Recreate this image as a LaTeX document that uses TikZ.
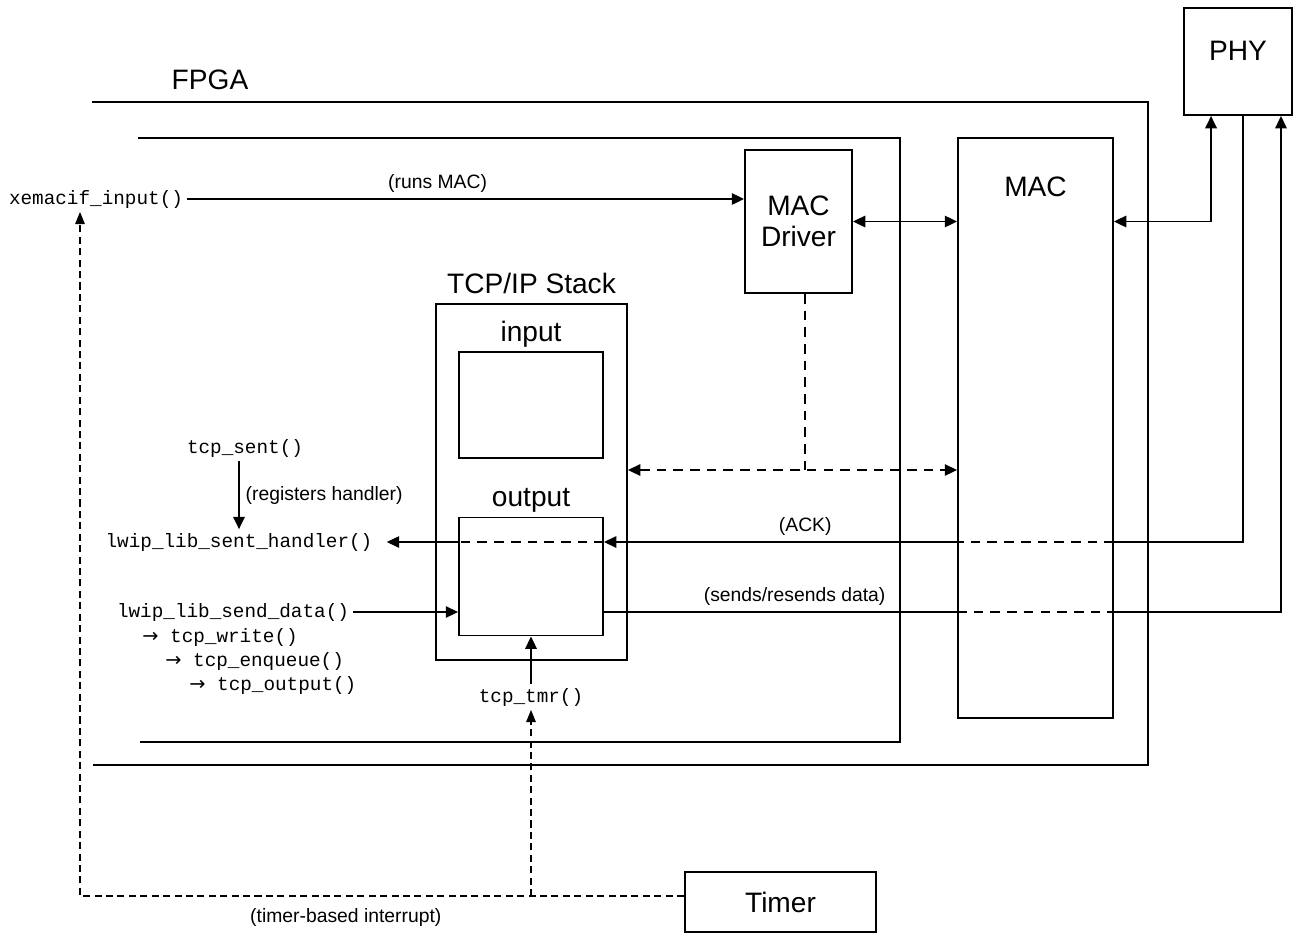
\documentclass[tikz,border=0pt]{standalone}
\usepackage{fontspec}
\setmainfont{Liberation Sans}
\setmonofont{Liberation Mono}
\newfontfamily\symfont{DejaVu Sans}
\usetikzlibrary{arrows.meta}
\newcommand\bigtxt{\fontsize{16}{18}\selectfont}
\newcommand\smalltxt{\fontsize{11}{13}\selectfont}
\tikzstyle{blk} = [rectangle, draw=black, line width=1.1pt, inner sep=0pt, font=\bigtxt, align=center]
\tikzstyle{fn} = [font=\smalltxt\ttfamily, inner sep=2pt]
\tikzstyle{lbl} = [font=\smalltxt]
\tikzstyle{frame} = [line width=1.5pt]
\tikzstyle{arrow} = [line width=1pt, -{Triangle[length=7pt,width=6.5pt]}]
\tikzstyle{thinarrow} = [line width=0.75pt, -{Triangle[length=7pt,width=6.5pt]}]
\tikzstyle{dblarrow} = [line width=1pt, {Triangle[length=7pt,width=6.5pt]}-{Triangle[length=7pt,width=6.5pt]}]
\tikzstyle{wire} = [line width=0.75pt]
\tikzstyle{dashwire} = [line width=0.8pt, dash pattern=on 5.5pt off 4pt]
\tikzstyle{irqline} = [line width=0.7pt, dash pattern=on 4pt off 2.5pt]

\begin{document}
\begin{tikzpicture}[x=0.02cm, y=-0.02cm]
	\useasboundingbox (0,0) rectangle (1293,934);

	% FPGA frames
	\node[font=\bigtxt] (fpga) at (210,80) {FPGA};
	\draw[frame] (92,102) -- (1148,102) -- (1148,765) -- (93,765);
	\draw[frame] (138,138) -- (900,138) -- (900,742) -- (140,742);

	% blocks
	\node[blk, minimum width=2.16cm, minimum height=2.14cm,
	      label={[anchor=north, inner sep=0pt, yshift=-0.68cm, font=\bigtxt]north:PHY}] (phy) at (1238,61.5) {};
	\node[blk, minimum width=3.1cm, minimum height=11.6cm,
	      label={[anchor=north, inner sep=0pt, yshift=-0.78cm, font=\bigtxt]north:MAC}] (mac) at (1035.5,428) {};
	\node[blk, minimum width=2.14cm, minimum height=2.86cm] (macdrv) at (798.5,221.5) {MAC\\Driver};
	\node[blk, minimum width=3.82cm, minimum height=7.12cm,
	      label={[inner sep=5pt, font=\bigtxt]north:TCP/IP Stack}] (stack) at (531.5,482) {};
	\node[blk, minimum width=2.88cm, minimum height=2.12cm,
	      label={[inner sep=2pt, font=\bigtxt]north:input}] (inbuf) at (531,405) {};
	\node[blk, minimum width=2.88cm, minimum height=2.36cm,
	      label={[inner sep=2pt, font=\bigtxt]north:output}] (outbuf) at (531,576.5) {};
	\node[blk, minimum width=3.82cm, minimum height=1.2cm] (timer) at (780.5,902) {Timer};

	% function names
	\node[fn] (xemac) at (96,199) {xemacif\_input()};
	\node[fn] (tcpsent) at (245,448) {tcp\_sent()};
	\node[fn, inner xsep=8pt] (handler) at (239,542) {lwip\_lib\_sent\_handler()};
	\node[fn] (senddata) at (233,612) {lwip\_lib\_send\_data()};
	\node[fn, anchor=west] (write) at (138.5,637) {{\symfont →} tcp\_write()};
	\node[fn, anchor=west] (enqueue) at (161.5,661) {{\symfont →} tcp\_enqueue()};
	\node[fn, anchor=west] (output) at (185.5,685) {{\symfont →} tcp\_output()};
	\node[fn] (tcptmr) at (531,697) {tcp\_tmr()};

	\coordinate (ack) at (1243,542);
	\coordinate (drvtap) at (805,470);
	\coordinate (irq) at (80,896);

	% driver and MAC
	\draw[arrow] (xemac.east) -- (xemac.east -| macdrv.west) node[lbl, pos=0.45, above] {(runs MAC)};
	\draw[dblarrow] (macdrv.east) -- (macdrv.east -| mac.west);
	\draw[dblarrow] ([xshift=0.56cm]phy.south west) |- (mac.east |- macdrv.east);
	\draw[dashwire] (macdrv.south -| drvtap) -- (drvtap);
	\draw[dashwire, {Triangle[length=7pt,width=6.5pt]}-{Triangle[length=7pt,width=6.5pt]}] (stack.east |- drvtap) -- (mac.west |- drvtap);

	% ACK path
	\draw[wire] (phy.south -| ack) -- (ack) -- (ack -| mac.east);
	\draw[dashwire] (ack -| mac.east) -- (ack -| mac.west);
	\draw[thinarrow] (ack -| mac.west) -- (ack -| outbuf.east) node[lbl, pos=0.43, above] {(ACK)};
	\draw[dashwire] (ack -| outbuf.east) -- (ack -| outbuf.west);
	\draw[thinarrow] (ack -| outbuf.west) -- (handler.east);
	\draw[arrow] (handler.north |- tcpsent.south) -- (handler.north) node[lbl, midway, right] {(registers handler)};

	% send path
	\draw[thinarrow] (senddata.east) -- (senddata.east -| outbuf.west);
	\draw[wire] (senddata -| outbuf.east) -- (senddata -| mac.west) node[lbl, pos=0.54, above] {(sends/resends data)};
	\draw[dashwire] (senddata -| mac.west) -- (senddata -| mac.east);
	\draw[thinarrow] (senddata -| mac.east) -| ([xshift=-0.24cm]phy.south east);

	% timer interrupt
	\draw[arrow] (tcptmr.north) -- (outbuf.south);
	\draw[irqline, -{Triangle[length=7pt,width=5.5pt]}] (timer.west |- irq) -- (irq) node[lbl, pos=0.56, below, yshift=-0.12cm] {(timer-based interrupt)} -- (irq |- xemac.south);
	\draw[irqline, -{Triangle[length=7pt,width=5.5pt]}] (tcptmr |- irq) -- (tcptmr.south);
\end{tikzpicture}
\end{document}
